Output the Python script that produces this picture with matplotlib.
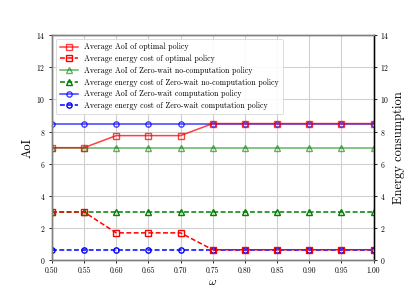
import matplotlib
matplotlib.use("Agg")
import matplotlib.pyplot as plt

plt.rcParams['font.family'] = 'serif'
plt.rcParams['font.serif'] = ['cmr10', 'DejaVu Serif']
plt.rcParams['mathtext.fontset'] = 'cm'
plt.rcParams['axes.formatter.use_mathtext'] = True
plt.rcParams['axes.unicode_minus'] = False

omega = [0.50, 0.55, 0.60, 0.65, 0.70, 0.75, 0.80, 0.85, 0.90, 0.95, 1.00]
aoi_opt = [7.0, 7.0, 7.75, 7.75, 7.75, 8.5, 8.5, 8.5, 8.5, 8.5, 8.5]
eng_opt = [3.0, 3.0, 1.7, 1.7, 1.7, 0.65, 0.65, 0.65, 0.65, 0.65, 0.65]
aoi_nocomp = [7.0] * 11
eng_nocomp = [3.0] * 11
aoi_comp = [8.5] * 11
eng_comp = [0.65] * 11
xticks = [0.50, 0.55, 0.60, 0.65, 0.70, 0.75, 0.80, 0.85, 0.90, 0.95, 1.00]
yticks = [0, 2, 4, 6, 8, 10, 12, 14]

fig = plt.figure(figsize=(4.15, 2.93), dpi=100)
ax = fig.add_axes([0.125, 0.112, 0.775, 0.768])
ax2 = ax.twinx()

ms = 3.8
lw = 1.1
dash = (3.2, 1.6)
l1, = ax.plot(omega, aoi_comp, '-', color='blue', marker='o', mfc='none', ms=ms, lw=lw, alpha=0.75, zorder=2,
              label='Average AoI of Zero-wait computation policy')
l2, = ax.plot(omega, aoi_nocomp, '-', color='green', marker='^', mfc='none', ms=ms, lw=lw, alpha=0.6, zorder=2,
              label='Average AoI of Zero-wait no-computation policy')
l3, = ax.plot(omega, aoi_opt, '-', color='red', marker='s', mfc='none', ms=ms, lw=lw, alpha=0.75, zorder=3,
              label='Average AoI of optimal policy')

e1, = ax2.plot(omega, eng_comp, '--', dashes=dash, color='blue', marker='o', mfc='none', ms=ms, lw=lw,
               label='Average energy cost of Zero-wait computation policy')
e2, = ax2.plot(omega, eng_nocomp, '--', dashes=dash, color='green', marker='^', mfc='none', ms=ms, lw=lw,
               label='Average energy cost of Zero-wait no-computation policy')
e3, = ax2.plot(omega, eng_opt, '--', dashes=dash, color='red', marker='s', mfc='none', ms=ms, lw=lw,
               label='Average energy cost of optimal policy')

for a in (ax, ax2):
    a.set_xlim(0.5, 1.0)
    a.set_ylim(0, 14)
    a.set_yticks(yticks)
    a.tick_params(labelsize=5.5, length=2.5, width=0.6, pad=2)
ax.set_xticks(xticks)
ax.set_xticklabels([f"{v:.2f}" for v in xticks])
ax.grid(True, color='#d0d0d0', lw=0.8)
ax.set_axisbelow(True)

ax.set_xlabel(r'$\omega$', fontsize=8.5, labelpad=2)
ax.set_ylabel('AoI', fontsize=9, labelpad=2)
ax2.set_ylabel('Energy consumption', fontsize=9, labelpad=3)

for s in ax.spines.values():
    s.set_color('#808080')
    s.set_linewidth(1.0)
for s in ax2.spines.values():
    s.set_color('#808080')
    s.set_linewidth(1.0)
ax2.spines['right'].set_color('black')

handles = [l3, e3, l2, e2, l1, e1]
leg = ax.legend(handles=handles, loc='upper left', fontsize=5.7, framealpha=0.9,
                handlelength=2.3, borderpad=0.5, labelspacing=0.42, fancybox=True)
leg.get_frame().set_linewidth(0.5)
leg.set_zorder(10)

fig.savefig('out.png', dpi=100)
